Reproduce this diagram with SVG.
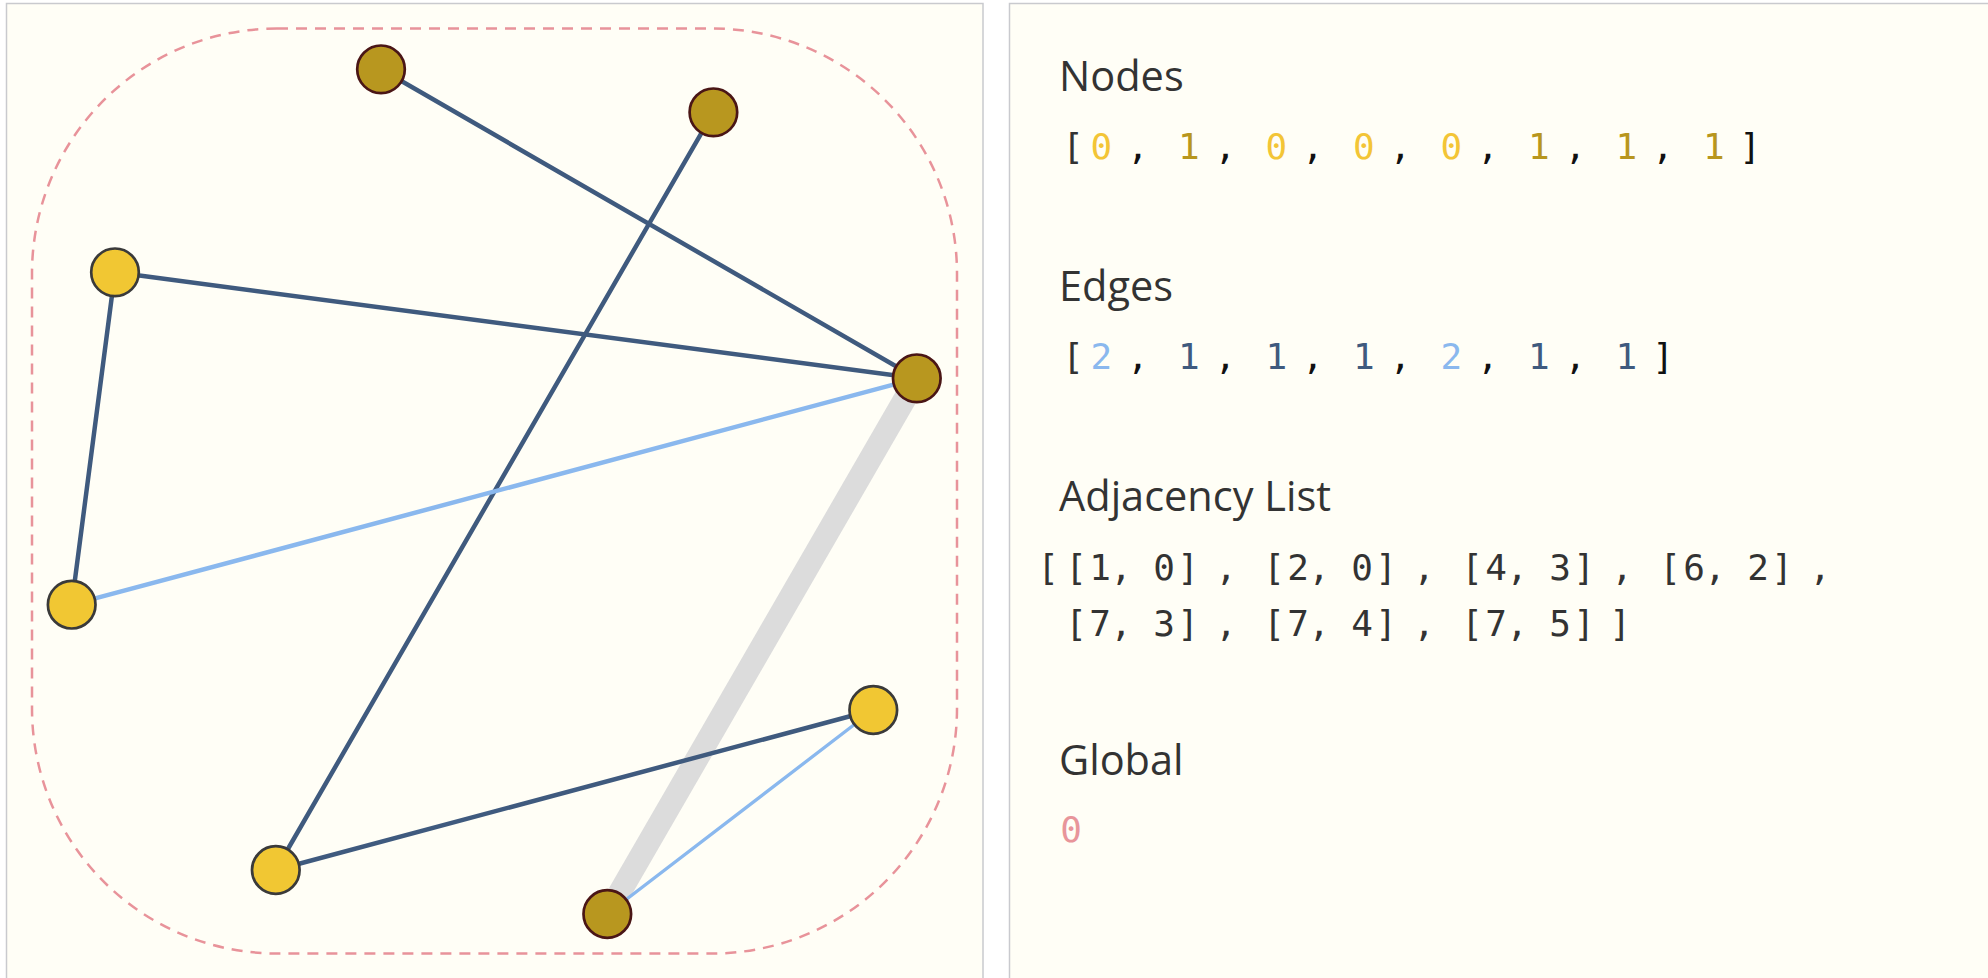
<svg xmlns="http://www.w3.org/2000/svg" width="1988" height="978" viewBox="0 0 1988 978">
<style>
.panel{fill:#FFFEF6;stroke:#C9CACE;stroke-width:1.5}
.hull{fill:none;stroke:#E8939A;stroke-width:2.5;stroke-dasharray:11 8}
.e1{stroke:#3F5A7E;stroke-width:4.5;stroke-linecap:round}
.e2{stroke:#8AB8EE;stroke-width:4.5;stroke-linecap:round}
.thin{stroke-width:3.3}
.hl{stroke:#DCDCDC;stroke-width:23;stroke-linecap:butt}
.n0{fill:#F1C733;stroke:#3A3A3A;stroke-width:2.7}
.n1{fill:#B8971F;stroke:#4A1616;stroke-width:2.7}
.hd{font-family:"Open Sans","Noto Sans",sans-serif;font-size:41.5px;fill:#333333}
.mono{font-family:"DejaVu Sans Mono","Liberation Mono",monospace;font-size:36px;text-anchor:middle}
.br{fill:#333333}
.cm{fill:#111111}
.y0{fill:#F3C536}
.g1{fill:#B8961E}
.lb{fill:#8AB8EE}
.db{fill:#3F5A7E}
.tx{fill:#333333}
.pk{fill:#E8959A}
</style>
<rect x="0" y="0" width="1988" height="978" fill="#FFFFFF"/>
<rect class="panel" x="6.5" y="3.5" width="976.5" height="990"/>
<rect class="panel" x="1009.5" y="3.5" width="990" height="990"/>
<rect class="hull" x="32" y="28.5" width="925" height="925" rx="245" ry="245"/>
<g id="connectors">
<line class="hl" x1="916.8" y1="378.3" x2="607.3" y2="914"/>
<line id="e-1-0" class="e2 thin" x1="607.3" y1="914" x2="873.3" y2="710"/>
<line id="e-2-0" class="e1" x1="275.8" y1="870" x2="873.3" y2="710"/>
<line id="e-4-3" class="e1" x1="115" y1="272.3" x2="71.7" y2="604.7"/>
<line id="e-6-2" class="e1" x1="713.4" y1="112.3" x2="275.8" y2="870"/>
<line id="e-7-3" class="e2" x1="916.8" y1="378.3" x2="71.7" y2="604.7"/>
<line id="e-7-4" class="e1" x1="916.8" y1="378.3" x2="115" y2="272.3"/>
<line id="e-7-5" class="e1" x1="916.8" y1="378.3" x2="381" y2="69.3"/>
</g>
<g id="node-0"><circle class="n0" cx="873.3" cy="710" r="23.8"/></g>
<g id="node-1"><circle class="n1" cx="607.3" cy="914" r="23.8"/></g>
<g id="node-2"><circle class="n0" cx="275.8" cy="870" r="23.8"/></g>
<g id="node-3"><circle class="n0" cx="71.7" cy="604.7" r="23.8"/></g>
<g id="node-4"><circle class="n0" cx="115" cy="272.3" r="23.8"/></g>
<g id="node-5"><circle class="n1" cx="381" cy="69.3" r="23.8"/></g>
<g id="node-6"><circle class="n1" cx="713.4" cy="112.3" r="23.8"/></g>
<g id="node-7"><circle class="n1" cx="916.8" cy="378.3" r="23.8"/></g>
<g id="panel-text">
<text class="hd" x="1059" y="90.5">Nodes</text>
<text class="mono" y="159"><tspan class="br" x="1073">[</tspan><tspan class="y0" x="1101.3">0</tspan><tspan class="cm" x="1137.8">,</tspan><tspan class="g1" x="1188.8">1</tspan><tspan class="cm" x="1225.3">,</tspan><tspan class="y0" x="1276.3">0</tspan><tspan class="cm" x="1312.8">,</tspan><tspan class="y0" x="1363.8">0</tspan><tspan class="cm" x="1400.3">,</tspan><tspan class="y0" x="1451.3">0</tspan><tspan class="cm" x="1487.8">,</tspan><tspan class="g1" x="1538.8">1</tspan><tspan class="cm" x="1575.3">,</tspan><tspan class="g1" x="1626.3">1</tspan><tspan class="cm" x="1662.8">,</tspan><tspan class="g1" x="1713.8">1</tspan><tspan class="cm" x="1750">]</tspan></text>
<text class="hd" x="1059" y="300.5">Edges</text>
<text class="mono" y="369"><tspan class="br" x="1073">[</tspan><tspan class="lb" x="1101.3">2</tspan><tspan class="cm" x="1137.8">,</tspan><tspan class="db" x="1188.8">1</tspan><tspan class="cm" x="1225.3">,</tspan><tspan class="db" x="1276.3">1</tspan><tspan class="cm" x="1312.8">,</tspan><tspan class="db" x="1363.8">1</tspan><tspan class="cm" x="1400.3">,</tspan><tspan class="lb" x="1451.3">2</tspan><tspan class="cm" x="1487.8">,</tspan><tspan class="db" x="1538.8">1</tspan><tspan class="cm" x="1575.3">,</tspan><tspan class="db" x="1626.3">1</tspan><tspan class="cm" x="1663">]</tspan></text>
<text class="hd" x="1059" y="511">Adjacency List</text>
<text class="mono tx" y="579.5"><tspan x="1048">[</tspan><tspan x="1076">[</tspan><tspan x="1100">1</tspan><tspan x="1121">,</tspan><tspan x="1164">0</tspan><tspan x="1188">]</tspan><tspan x="1226">,</tspan><tspan x="1274">[</tspan><tspan x="1298">2</tspan><tspan x="1319">,</tspan><tspan x="1362">0</tspan><tspan x="1386">]</tspan><tspan x="1424">,</tspan><tspan x="1472">[</tspan><tspan x="1496">4</tspan><tspan x="1517">,</tspan><tspan x="1560">3</tspan><tspan x="1584">]</tspan><tspan x="1622">,</tspan><tspan x="1670">[</tspan><tspan x="1694">6</tspan><tspan x="1715">,</tspan><tspan x="1758">2</tspan><tspan x="1782">]</tspan><tspan x="1820">,</tspan></text>
<text class="mono tx" y="636"><tspan x="1076">[</tspan><tspan x="1100">7</tspan><tspan x="1121">,</tspan><tspan x="1164">3</tspan><tspan x="1188">]</tspan><tspan x="1226">,</tspan><tspan x="1274">[</tspan><tspan x="1298">7</tspan><tspan x="1319">,</tspan><tspan x="1362">4</tspan><tspan x="1386">]</tspan><tspan x="1424">,</tspan><tspan x="1472">[</tspan><tspan x="1496">7</tspan><tspan x="1517">,</tspan><tspan x="1560">5</tspan><tspan x="1584">]</tspan><tspan x="1620">]</tspan></text>
<text class="hd" x="1059" y="775">Global</text>
<text class="mono pk" x="1071" y="841.5">0</text>
</g>
</svg>
